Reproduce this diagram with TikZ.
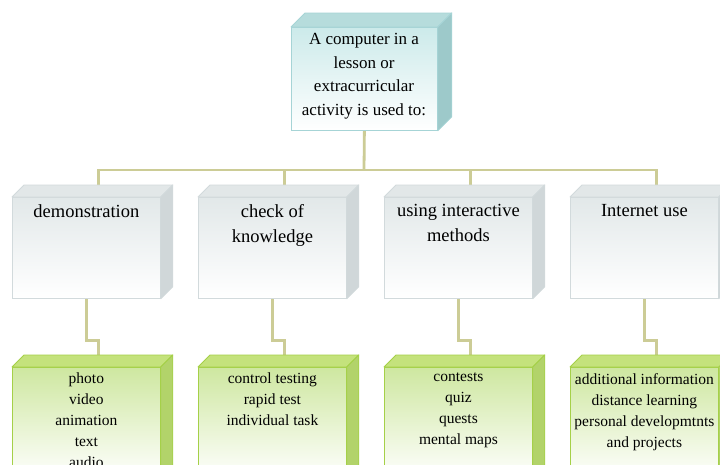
\documentclass[tikz,border=0pt]{standalone}
\usepackage{fontspec}
\setmainfont{Liberation Serif}
\begin{document}
\pgfdeclarelayer{bg}
\pgfsetlayers{bg,main}
\definecolor{conncol}{RGB}{204,204,150}
\definecolor{tborder}{RGB}{166,212,214}
\definecolor{tfront}{RGB}{204,234,234}
\definecolor{ttop}{RGB}{182,220,220}
\definecolor{tside}{RGB}{157,201,202}
\definecolor{mborder}{RGB}{210,218,220}
\definecolor{mfront}{RGB}{226,232,233}
\definecolor{mtop}{RGB}{226,231,232}
\definecolor{mside}{RGB}{208,215,217}
\definecolor{gborder}{RGB}{165,208,72}
\definecolor{gfront}{RGB}{206,231,160}
\definecolor{gtop}{RGB}{196,226,124}
\definecolor{gside}{RGB}{178,211,106}
\tikzset{
  conn/.style={draw=conncol, line width=2.8pt},
  topbox/.style={draw=tborder, line width=0.8pt, top color=tfront, bottom color=white, minimum width=146pt, minimum height=103pt, inner sep=0pt, anchor=north west},
  midbox/.style={draw=mborder, line width=0.8pt, top color=mfront, bottom color=white, minimum width=148pt, minimum height=101pt, inner sep=0pt, anchor=north west},
  grnbox/.style={draw=gborder, line width=0.8pt, top color=gfront, bottom color=white, minimum width=148pt, minimum height=112pt, inner sep=0pt, anchor=north west},
  ttext/.style={align=center, inner sep=0pt, anchor=north, font=\fontsize{17}{23.5}\selectfont},
  mtext/.style={align=center, inner sep=0pt, anchor=north, font=\fontsize{18.5}{25}\selectfont},
  gtext/.style={align=center, inner sep=0pt, anchor=north, font=\fontsize{15.5}{21}\selectfont},
}
\newcommand{\cubefaces}[5]{% node, depth, topcolor, sidecolor, bordercolor
  \filldraw[fill=#3, draw=#5, line width=0.8pt, line join=round] (#1.north west) -- ++(#2,-#2) -- ([shift={(#2,-#2)}]#1.north east) -- (#1.north east) -- cycle;
  \filldraw[fill=#4, draw=#5, line width=0.8pt, line join=round] (#1.north east) -- ++(#2,-#2) -- ([shift={(#2,-#2)}]#1.south east) -- (#1.south east) -- cycle;
}
\begin{tikzpicture}[x=1pt,y=-1pt]
\useasboundingbox (0,0) rectangle (720,464);
\clip (0,0) rectangle (720,464);

% top box
\node[topbox] (top) at (291,27) {};
\cubefaces{top}{14}{ttop}{tside}{tborder}
\node[ttext] (toptxt) at (364,33.5) {A computer in a\\lesson or\\extracurricular\\activity is used to:};

% middle boxes
\node[midbox] (b1) at (12,197) {};
\node[midbox] (b2) at (198,197) {};
\node[midbox] (b3) at (384,197) {};
\node[midbox] (b4) at (570,197) {};
\cubefaces{b1}{12}{mtop}{mside}{mborder}
\cubefaces{b2}{12}{mtop}{mside}{mborder}
\cubefaces{b3}{12}{mtop}{mside}{mborder}
\cubefaces{b4}{12}{mtop}{mside}{mborder}
\node[mtext] (t1) at ([yshift=-7.5]b1.north) {demonstration};
\node[mtext] (t2) at ([yshift=-7.5]b2.north) {check of\\knowledge};
\node[mtext] (t3) at ([yshift=-7.5]b3.north) {using interactive\\methods};
\node[mtext] (t4) at ([yshift=-7.5]b4.north) {Internet use};

% green boxes
\node[grnbox] (g1) at (12,367) {};
\node[grnbox] (g2) at (198,367) {};
\node[grnbox] (g3) at (384,367) {};
\node[grnbox] (g4) at (570,367) {};
\cubefaces{g1}{12}{gtop}{gside}{gborder}
\cubefaces{g2}{12}{gtop}{gside}{gborder}
\cubefaces{g3}{12}{gtop}{gside}{gborder}
\cubefaces{g4}{12}{gtop}{gside}{gborder}
\node[gtext] (u1) at ([yshift=-6]g1.north) {photo\\video\\animation\\text\\audio};
\node[gtext] (u2) at ([yshift=-6]g2.north) {control testing\\rapid test\\individual task};
\node[gtext] (u3) at ([yshift=-6]g3.north) {contests\\quiz\\quests\\mental maps};
\node[gtext] (u4) at ([yshift=-6]g4.north) {additional information\\distance learning\\personal developmtnts\\and projects};

% connectors
\coordinate (bar) at (364,170);
\coordinate (b1t) at ([shift={(12,-12)}]b1.north);
\coordinate (b2t) at ([shift={(12,-12)}]b2.north);
\coordinate (b3t) at ([shift={(12,-12)}]b3.north);
\coordinate (b4t) at ([shift={(12,-12)}]b4.north);
\coordinate (g1t) at ([shift={(12,-12)}]g1.north);
\coordinate (g2t) at ([shift={(12,-12)}]g2.north);
\coordinate (g3t) at ([shift={(12,-12)}]g3.north);
\coordinate (g4t) at ([shift={(12,-12)}]g4.north);
\begin{pgfonlayer}{bg}
\fill[white] (0,0) rectangle (720,464);
\draw[conn] (top.south) -- (bar);
\draw[conn] (b1t) |- (bar) -| (b4t);
\draw[conn] (b2t) -- (b2t |- bar);
\draw[conn] (b3t) -- (b3t |- bar);
\draw[conn] (b1.south) -- ++(0,42) -| (g1t);
\draw[conn] (b2.south) -- ++(0,42) -| (g2t);
\draw[conn] (b3.south) -- ++(0,42) -| (g3t);
\draw[conn] (b4.south) -- ++(0,42) -| (g4t);
\end{pgfonlayer}
\end{tikzpicture}
\end{document}
